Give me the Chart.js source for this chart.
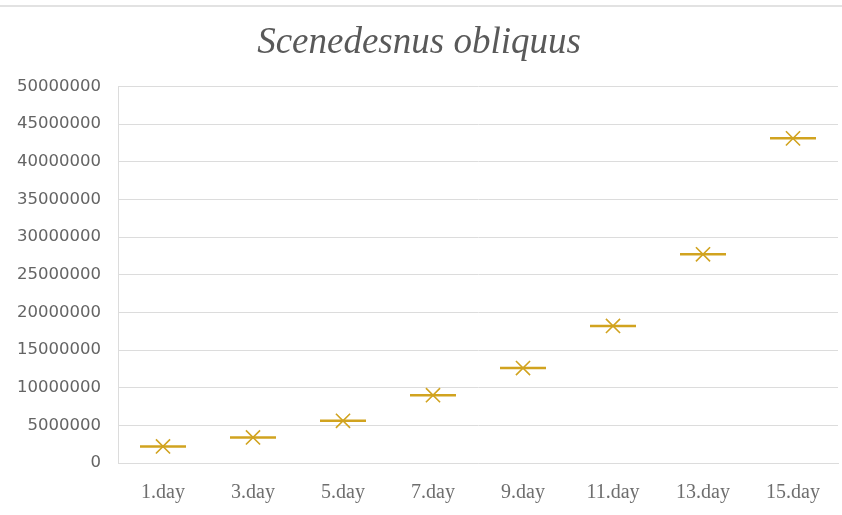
<!DOCTYPE html>
<html>
<head>
<meta charset="utf-8">
<script src="https://cdn.jsdelivr.net/npm/chart.js@4"></script>
<style>
  html, body { margin: 0; padding: 0; background: #ffffff; }
  #wrap { width: 842px; height: 515px; position: relative; }
</style>
</head>
<body>
<div id="wrap"><canvas id="chart" width="842" height="515"></canvas></div>
<script>
// Cell counts of Scenedesnus obliquus by culture day
const days = ['1.day', '3.day', '5.day', '7.day', '9.day', '11.day', '13.day', '15.day'];
const cellCounts = [2200000, 3400000, 5600000, 9000000, 12600000, 18200000, 27700000, 43100000];
const yTicks = [0, 5000000, 10000000, 15000000, 20000000, 25000000, 30000000, 35000000, 40000000, 45000000, 50000000];

const markColor = '#d1a31f';
const gridColor = '#dcdcdc';
const textColor = '#646464';

// thin rule across the top edge of the figure
const topRule = {
  id: 'topRule',
  beforeDraw(chart) {
    const ctx = chart.ctx;
    ctx.save();
    ctx.strokeStyle = '#e2e2e2';
    ctx.lineWidth = 2;
    ctx.beginPath();
    ctx.moveTo(0, 6);
    ctx.lineTo(chart.width, 6);
    ctx.stroke();
    ctx.restore();
  }
};

new Chart(document.getElementById('chart'), {
  type: 'line',
  data: {
    labels: days,
    datasets: [
      {
        data: cellCounts,
        showLine: false,
        pointStyle: 'line',
        pointRadius: 23,
        pointBorderWidth: 2.5,
        pointBorderColor: markColor,
        pointBackgroundColor: markColor
      },
      {
        data: cellCounts,
        showLine: false,
        pointStyle: 'crossRot',
        pointRadius: 10,
        pointBorderWidth: 1.6,
        pointBorderColor: markColor,
        pointBackgroundColor: markColor
      }
    ]
  },
  options: {
    responsive: false,
    animation: false,
    events: [],
    layout: { autoPadding: false, padding: { left: 0, right: 4, top: 0, bottom: 0 } },
    plugins: {
      legend: { display: false },
      tooltip: { enabled: false },
      title: {
        display: true,
        text: 'Scenedesnus obliquus',
        color: '#595959',
        font: { family: '"Liberation Serif", "DejaVu Serif", serif', size: 37, style: 'italic', weight: 'normal' },
        padding: { top: 21, bottom: 21 }
      }
    },
    scales: {
      x: {
        offset: true,
        grid: { display: false, drawTicks: false },
        border: { display: true, color: gridColor, width: 1 },
        ticks: {
          color: '#6e6e6e',
          padding: 18,
          font: { family: '"Liberation Serif", serif', size: 20 }
        },
        afterFit(scale) { scale.height = 52; }
      },
      y: {
        min: 0,
        max: 50000000,
        afterBuildTicks(scale) { scale.ticks = yTicks.map(v => ({ value: v })); },
        grid: { color: gridColor, lineWidth: 1, drawTicks: false },
        border: { display: true, color: gridColor, width: 1 },
        ticks: {
          color: textColor,
          padding: 17,
          font: { family: '"DejaVu Sans", sans-serif', size: 16.5 },
          callback: v => String(v)
        },
        afterFit(scale) { scale.width = 118; }
      }
    }
  },
  plugins: [topRule]
});
</script>
</body>
</html>
